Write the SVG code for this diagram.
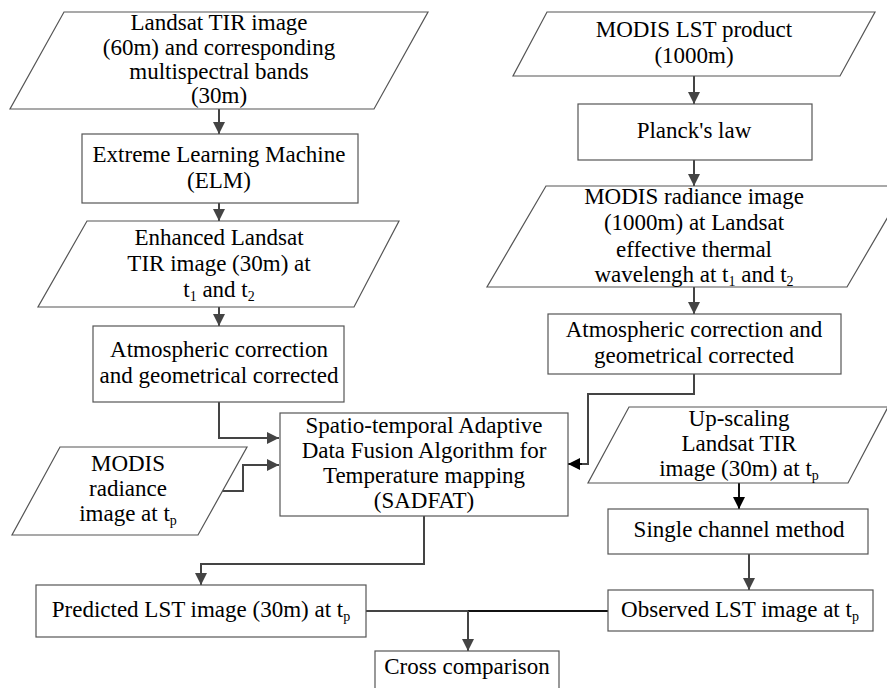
<svg xmlns="http://www.w3.org/2000/svg" width="887" height="688" viewBox="0 0 887 688">
<defs>
<style>
.n{fill:#fff;stroke:#555;stroke-width:1.2}
.t{font-size:23px;fill:#000;text-anchor:middle}
.s{font-size:14px}
.c{fill:none;stroke:#444;stroke-width:2}
.k{fill:none;stroke:#111;stroke-width:2}
</style>
<marker id="a" markerUnits="userSpaceOnUse" markerWidth="12" markerHeight="12" refX="12" refY="6" orient="auto">
<path d="M0,0 L12,6 L0,12 z" fill="#444"/>
</marker>
<marker id="b" markerUnits="userSpaceOnUse" markerWidth="12" markerHeight="12" refX="12" refY="6" orient="auto">
<path d="M0,0 L12,6 L0,12 z" fill="#000"/>
</marker>
</defs>
<rect width="887" height="688" fill="#fff"/>
<g id="connectors">
<path class="c" d="M219,109 V134" marker-end="url(#a)"/>
<path class="c" d="M219,203 V221" marker-end="url(#a)"/>
<path class="c" d="M219,307 V326" marker-end="url(#a)"/>
<path class="c" d="M219,402 V438 H279" marker-end="url(#a)"/>
<path class="c" d="M220,491 H243 V465 H279" marker-end="url(#a)"/>
<path class="c" d="M694,76 V104" marker-end="url(#a)"/>
<path class="c" d="M694,160 V186" marker-end="url(#a)"/>
<path class="c" d="M694,287 V314" marker-end="url(#a)"/>
<path class="c" d="M694,374 V394 H588 V464 H580"/>
<path class="k" d="M582,464 H568" marker-end="url(#b)"/>
<path class="k" d="M739,483 V509" marker-end="url(#b)"/>
<path class="c" d="M749,554 V590" marker-end="url(#a)"/>
<path class="c" d="M424,516 V564 H201 V585" marker-end="url(#a)"/>
<path class="c" d="M366,611 H468"/>
<path class="k" d="M468,611 H609"/>
<path class="c" d="M468,611 V651" marker-end="url(#a)"/>
</g>
<g font-family="Liberation Serif, DejaVu Serif, serif">
<g id="landsat-input">
<polygon class="n" points="64,12 428,12 374,109 10,109"/>
<text class="t" x="219" y="30">Landsat TIR image</text>
<text class="t" x="219" y="54.5">(60m) and corresponding</text>
<text class="t" x="219" y="79">multispectral bands</text>
<text class="t" x="219" y="103">(30m)</text>
</g>
<g id="elm">
<rect class="n" x="82" y="134" width="276" height="69"/>
<text class="t" x="219" y="162">Extreme Learning Machine</text>
<text class="t" x="219" y="188">(ELM)</text>
</g>
<g id="enhanced">
<polygon class="n" points="87,221 399,221 354,307 38,307"/>
<text class="t" x="219" y="245">Enhanced Landsat</text>
<text class="t" x="219" y="271">TIR image (30m) at</text>
<text class="t" x="219" y="297">t<tspan class="s" dy="4">1</tspan><tspan dy="-4"> and t</tspan><tspan class="s" dy="4">2</tspan></text>
</g>
<g id="atm-left">
<rect class="n" x="93" y="326" width="251" height="76"/>
<text class="t" x="219" y="357">Atmospheric correction</text>
<text class="t" x="219" y="383">and geometrical corrected</text>
</g>
<g id="modis-tp">
<polygon class="n" points="60,447 247,447 198,535 12,535"/>
<text class="t" x="128" y="471">MODIS</text>
<text class="t" x="128" y="496">radiance</text>
<text class="t" x="128" y="521">image at t<tspan class="s" dy="4">p</tspan></text>
</g>
<g id="sadfat">
<rect class="n" x="280" y="413" width="288" height="103"/>
<text class="t" x="424" y="433">Spatio-temporal Adaptive</text>
<text class="t" x="424" y="458">Data Fusion Algorithm for</text>
<text class="t" x="424" y="483">Temperature mapping</text>
<text class="t" x="424" y="508">(SADFAT)</text>
</g>
<g id="modis-lst">
<polygon class="n" points="547,12 875,12 840,76 513,76"/>
<text class="t" x="694" y="37">MODIS LST product</text>
<text class="t" x="694" y="63">(1000m)</text>
</g>
<g id="planck">
<rect class="n" x="578" y="104" width="234" height="56"/>
<text class="t" x="694" y="138">Planck's law</text>
</g>
<g id="modis-radiance">
<polygon class="n" points="546,186 906,186 847,287 487,287"/>
<text class="t" x="694" y="204">MODIS radiance image</text>
<text class="t" x="694" y="230">(1000m) at Landsat</text>
<text class="t" x="694" y="257">effective thermal</text>
<text class="t" x="694" y="282">wavelengh at t<tspan class="s" dy="4">1</tspan><tspan dy="-4"> and t</tspan><tspan class="s" dy="4">2</tspan></text>
</g>
<g id="atm-right">
<rect class="n" x="548" y="314" width="293" height="60"/>
<text class="t" x="694" y="337">Atmospheric correction and</text>
<text class="t" x="694" y="363">geometrical corrected</text>
</g>
<g id="upscaling">
<polygon class="n" points="629,407 888,407 848,483 588,483"/>
<text class="t" x="739" y="426">Up-scaling</text>
<text class="t" x="739" y="451">Landsat TIR</text>
<text class="t" x="739" y="476">image (30m) at t<tspan class="s" dy="4">p</tspan></text>
</g>
<g id="single-channel">
<rect class="n" x="608" y="509" width="260" height="45"/>
<text class="t" x="739" y="537">Single channel method</text>
</g>
<g id="observed">
<rect class="n" x="608" y="590" width="265" height="41"/>
<text class="t" x="740" y="617">Observed LST image at t<tspan class="s" dy="4">p</tspan></text>
</g>
<g id="predicted">
<rect class="n" x="36" y="585" width="330" height="52"/>
<text class="t" x="201" y="617">Predicted LST image (30m) at t<tspan class="s" dy="4">p</tspan></text>
</g>
<g id="cross">
<rect class="n" x="375" y="651" width="184" height="45"/>
<text class="t" x="467" y="674">Cross comparison</text>
</g>
</g>
</svg>
